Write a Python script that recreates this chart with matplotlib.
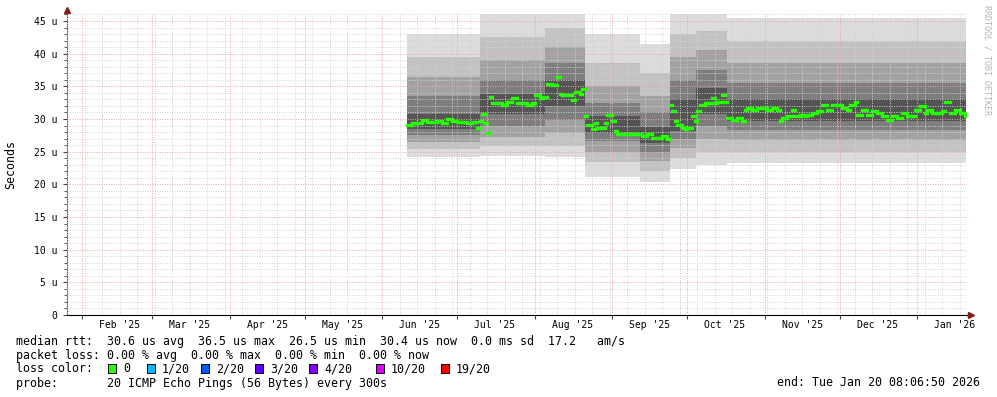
import matplotlib
matplotlib.use("Agg")
import matplotlib.pyplot as plt
import matplotlib.dates as mdates
from matplotlib.patches import Rectangle
from matplotlib.ticker import FuncFormatter, MultipleLocator
import pandas as pd

# median rtt (microseconds)
median_dates = [
    "2025-06-11", "2025-06-13", "2025-06-15", "2025-06-17", "2025-06-19", "2025-06-21",
    "2025-06-23", "2025-06-25", "2025-06-27", "2025-06-29", "2025-07-01", "2025-07-03",
    "2025-07-05", "2025-07-07", "2025-07-09", "2025-07-10", "2025-07-11", "2025-07-12",
    "2025-07-13", "2025-07-14", "2025-07-15", "2025-07-17", "2025-07-19", "2025-07-21",
    "2025-07-23", "2025-07-25", "2025-07-27", "2025-07-29", "2025-07-31", "2025-08-01",
    "2025-08-03", "2025-08-04", "2025-08-06", "2025-08-08", "2025-08-10", "2025-08-11",
    "2025-08-12", "2025-08-14", "2025-08-16", "2025-08-17", "2025-08-19", "2025-08-20",
    "2025-08-21", "2025-08-22", "2025-08-24", "2025-08-25", "2025-08-26", "2025-08-28",
    "2025-08-29", "2025-08-30", "2025-08-31", "2025-09-01", "2025-09-02", "2025-09-03",
    "2025-09-05", "2025-09-07", "2025-09-09", "2025-09-11", "2025-09-13", "2025-09-15",
    "2025-09-17", "2025-09-19", "2025-09-21", "2025-09-23", "2025-09-24", "2025-09-25",
    "2025-09-26", "2025-09-27", "2025-09-29", "2025-09-30", "2025-10-01", "2025-10-03",
    "2025-10-04", "2025-10-05", "2025-10-06", "2025-10-08", "2025-10-09", "2025-10-11",
    "2025-10-12", "2025-10-13", "2025-10-15", "2025-10-16", "2025-10-17", "2025-10-19",
    "2025-10-21", "2025-10-23", "2025-10-24", "2025-10-25", "2025-10-27", "2025-10-29",
    "2025-10-31", "2025-11-02", "2025-11-04", "2025-11-06", "2025-11-07", "2025-11-08",
    "2025-11-10", "2025-11-12", "2025-11-13", "2025-11-15", "2025-11-17", "2025-11-18",
    "2025-11-20", "2025-11-22", "2025-11-24", "2025-11-26", "2025-11-28", "2025-11-30",
    "2025-12-02", "2025-12-04", "2025-12-05", "2025-12-07", "2025-12-08", "2025-12-10",
    "2025-12-12", "2025-12-14", "2025-12-16", "2025-12-18", "2025-12-20", "2025-12-22",
    "2025-12-24", "2025-12-26", "2025-12-28", "2025-12-30", "2025-12-31", "2026-01-02",
    "2026-01-04", "2026-01-05", "2026-01-07", "2026-01-09", "2026-01-11", "2026-01-12",
    "2026-01-14", "2026-01-16", "2026-01-18", "2026-01-20",
]
median_us = [
    29.15, 29.4, 29.4, 29.8, 29.55, 29.55,
    29.65, 29.4, 30.05, 29.65, 29.55, 29.55,
    29.4, 29.5, 28.65, 29.65, 30.8, 29.4,
    27.9, 33.4, 32.4, 32.4, 32.15, 32.65,
    33.15, 32.4, 32.4, 32.15, 32.4, 33.65,
    33.15, 33.4, 35.4, 35.15, 36.4, 33.9,
    33.65, 33.65, 32.9, 34.15, 33.9, 34.65,
    30.4, 29.15, 28.4, 29.4, 28.65, 28.65,
    29.4, 30.65, 30.65, 29.65, 28.15, 27.65,
    27.65, 27.65, 27.65, 27.65, 27.4, 27.65,
    27.15, 27.15, 27.4, 26.9, 32.15, 31.15,
    29.65, 29.15, 28.65, 28.4, 28.65, 30.4,
    29.65, 31.15, 32.15, 32.4, 32.4, 33.15,
    32.4, 32.65, 33.65, 32.65, 30.15, 29.9,
    30.15, 29.65, 31.4, 31.65, 31.4, 31.65,
    31.65, 31.4, 31.65, 31.4, 29.65, 30.15,
    30.4, 31.4, 30.4, 30.65, 30.4, 30.65,
    30.9, 31.15, 32.15, 31.4, 32.15, 32.15,
    31.65, 31.4, 32.15, 32.65, 30.65, 31.4,
    30.65, 31.15, 30.9, 30.4, 29.9, 30.4,
    30.15, 30.9, 30.4, 30.4, 31.4, 32.05,
    30.9, 31.4, 30.9, 30.9, 31.15, 32.65,
    30.9, 31.4, 30.9, 30.4,
]

# smoke periods: ping spread, outer -> inner layers (microseconds)
seg_start = ["2025-06-11", "2025-07-10", "2025-08-05", "2025-08-21", "2025-09-12",
             "2025-09-24", "2025-10-04 12:00", "2025-10-16 18:00"]
seg_end = ["2025-07-10", "2025-08-05", "2025-08-21", "2025-09-12", "2025-09-24",
           "2025-10-04 12:00", "2025-10-16 18:00", "2026-01-20 08:06"]
smoke_lo = [
    [24.2, 25.4, 26.5, 27.5, 28.4],
    [24.4, 25.8, 27.3, 29.0, 30.7],
    [24.2, 25.8, 27.8, 29.9, 32.0],
    [21.1, 23.4, 25.0, 26.6, 27.9],
    [20.3, 22.0, 23.6, 25.0, 26.3],
    [22.4, 24.0, 25.6, 27.0, 28.2],
    [23.0, 25.0, 27.0, 29.0, 30.8],
    [23.3, 25.0, 26.8, 28.3, 29.7],
]
smoke_hi = [
    [43.0, 39.5, 36.5, 33.5, 30.8],
    [46.3, 42.5, 39.0, 36.0, 33.8],
    [46.3, 44.0, 41.0, 38.5, 36.0],
    [43.0, 38.5, 35.0, 32.5, 30.5],
    [41.5, 37.0, 33.5, 31.0, 28.8],
    [46.3, 43.0, 39.5, 36.0, 33.0],
    [46.3, 43.5, 40.5, 37.5, 34.8],
    [45.4, 42.0, 38.5, 35.5, 33.0],
]
smoke_colors = ["#dcdcdc", "#c2c2c2", "#a2a2a2", "#7e7e7e", "#545454"]

month_labels = ["Feb '25", "Mar '25", "Apr '25", "May '25", "Jun '25", "Jul '25",
                "Aug '25", "Sep '25", "Oct '25", "Nov '25", "Dec '25", "Jan '26"]
loss_labels = ["0", "1/20", "2/20", "3/20", "4/20", "10/20", "19/20"]
loss_colors = ["#26ff00", "#00b8ff", "#0059ff", "#5e00ff", "#7e00ff", "#dd00ff", "#ff0000"]

mono = "DejaVu Sans Mono"
W, H = 997, 397

fig = plt.figure(figsize=(W / 100, H / 100), dpi=100)
ax = fig.add_axes([67 / W, (H - 315) / H, 900 / W, 301 / H])

t0 = pd.Timestamp("2025-01-25 20:00")
t1 = pd.Timestamp("2026-01-20 20:00")

# smoke
for s, e, lo, hi in zip(seg_start, seg_end, smoke_lo, smoke_hi):
    xs = [pd.Timestamp(s), pd.Timestamp(e)]
    for k in range(len(lo)):
        ax.fill_between(xs, [lo[k]] * 2, [hi[k]] * 2, color=smoke_colors[k], lw=0, zorder=1)

# median, drawn as short horizontal blocks like smokeping does
md = list(pd.to_datetime(median_dates)) + [pd.Timestamp("2026-01-20 08:06")]
ax.hlines(median_us, md[:-1], md[1:], color=loss_colors[0], lw=2.4, zorder=4,
          capstyle="projecting")

ax.set_xlim(t0, t1)
ax.set_ylim(0, 46.07)

ax.yaxis.set_major_locator(MultipleLocator(5))
ax.yaxis.set_minor_locator(MultipleLocator(1))
ax.yaxis.set_major_formatter(FuncFormatter(lambda v, p: "0" if v == 0 else "%d u" % v))
ax.xaxis.set_major_locator(mdates.MonthLocator())
ax.xaxis.set_minor_locator(mdates.WeekdayLocator(byweekday=mdates.SU))
ax.xaxis.set_major_formatter(FuncFormatter(lambda v, p: ""))

ax.grid(which="minor", color="#d2d2d2", ls=(0, (1, 1.5)), lw=0.7, zorder=3)
ax.grid(which="major", color="#e8a4a4", ls=(0, (1, 1.5)), lw=0.7, zorder=3)
ax.set_axisbelow(False)

ax.tick_params(axis="y", which="major", length=3, direction="out", color="#444444",
               labelsize=7, pad=4)
ax.tick_params(axis="y", which="minor", length=2, direction="out", color="#444444")
ax.tick_params(axis="x", which="major", length=3, direction="out", color="#444444", labelsize=7)
ax.tick_params(axis="x", which="minor", length=0)
for lab in ax.get_yticklabels():
    lab.set_family(mono)

for sp in ["top", "right"]:
    ax.spines[sp].set_visible(False)
ax.spines["left"].set_color("#555555")
ax.spines["bottom"].set_color("black")

# axis arrows
ax.plot([0, 0], [1, 1.012], transform=ax.transAxes, color="#555555", lw=1, clip_on=False)
ax.plot(0, 1.014, marker="^", ms=4, color="#8b1a1a", transform=ax.transAxes, clip_on=False)
ax.plot([1, 1.003], [0, 0], transform=ax.transAxes, color="black", lw=1, clip_on=False)
ax.plot(1.004, 0, marker=">", ms=4, color="#8b1a1a", transform=ax.transAxes, clip_on=False)

# month labels, centred mid-month
month_starts = pd.date_range("2025-02-01", periods=len(month_labels), freq="MS")
for ms_, lab in zip(month_starts, month_labels):
    ax.text(ms_ + pd.Timedelta(days=15), -10 / 301, lab, transform=ax.get_xaxis_transform(),
            ha="center", va="center", fontsize=7, family=mono)

fig.text(11 / W, 1 - 164 / H, "Seconds", rotation=90, ha="center", va="center",
         fontsize=8.4, family=mono)
fig.text(987 / W, 1 - 60 / H, "RRDTOOL / TOBI OETIKER", rotation=270, ha="center",
         va="center", fontsize=6, family=mono, color="#b4b4b4")

# legend block
fs = 8.4
fig.text(16 / W, 1 - 341 / H,
         "median rtt:  30.6 us avg  36.5 us max  26.5 us min  30.4 us now  0.0 ms sd  17.2   am/s",
         ha="left", va="center", fontsize=fs, family=mono)
fig.text(16 / W, 1 - 355 / H,
         "packet loss: 0.00 % avg  0.00 % max  0.00 % min  0.00 % now",
         ha="left", va="center", fontsize=fs, family=mono)
fig.text(16 / W, 1 - 369 / H, "loss color:", ha="left", va="center", fontsize=fs, family=mono)
box_x = [108, 147, 201, 255, 309, 376, 441]
for bx, lab, col in zip(box_x, loss_labels, loss_colors):
    fig.patches.append(Rectangle((bx / W, 1 - 373 / H), 8 / W, 9 / H, transform=fig.transFigure,
                                 facecolor=col, edgecolor="black", lw=0.7))
    fig.text((bx + 15) / W, 1 - 369 / H, lab, ha="left", va="center", fontsize=fs, family=mono)
fig.text(16 / W, 1 - 383 / H, "probe:       20 ICMP Echo Pings (56 Bytes) every 300s",
         ha="left", va="center", fontsize=fs, family=mono)
fig.text(980 / W, 1 - 383 / H, "end: Tue Jan 20 08:06:50 2026",
         ha="right", va="center", fontsize=fs, family=mono)

fig.savefig("out.png", dpi=100)
